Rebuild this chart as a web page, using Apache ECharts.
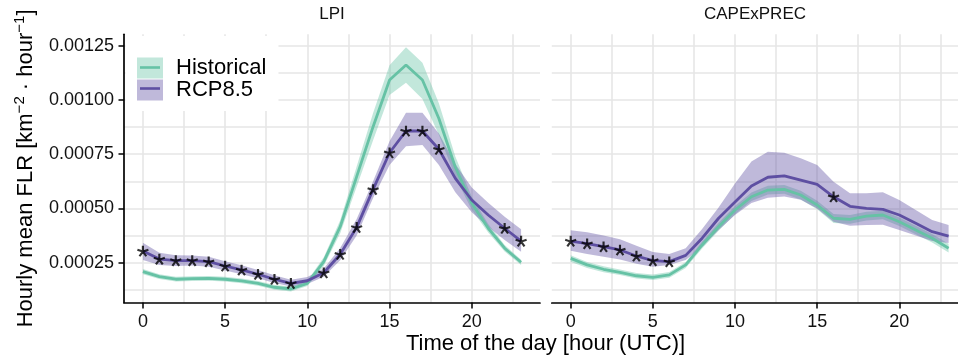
<!DOCTYPE html>
<html><head><meta charset="utf-8">
<script src="https://cdn.jsdelivr.net/npm/echarts@6/dist/echarts.min.js"></script>
<style>html,body{margin:0;padding:0;background:#fff}#c{width:958px;height:362px}</style>
</head><body><div id="c"></div>
<script>
// ---------- data ----------
const hours = [0,1,2,3,4,5,6,7,8,9,10,11,12,13,14,15,16,17,18,19,20,21,22,23];
const panelNames = ['LPI', 'CAPExPREC'];
const seriesNames = ['Historical', 'RCP8.5'];

// LPI panel
const lpiHist   = [0.000209,0.000186,0.000174,0.000177,0.000178,0.000174,0.000166,0.000155,0.000137,0.000129,0.000155,0.000255,0.000416,0.000647,0.000877,0.001092,0.001161,0.001092,0.000915,0.000690,0.000524,0.000409,0.000317,0.000252];
const lpiHistLo = [0.000197,0.000175,0.000163,0.000166,0.000167,0.000163,0.000155,0.000144,0.000126,0.000118,0.000143,0.000235,0.000386,0.000600,0.000815,0.001023,0.001080,0.001005,0.000840,0.000645,0.000494,0.000389,0.000302,0.000240];
const lpiHistHi = [0.000221,0.000197,0.000185,0.000188,0.000189,0.000185,0.000177,0.000166,0.000148,0.000140,0.000167,0.000275,0.000446,0.000694,0.000940,0.001160,0.001243,0.001172,0.000985,0.000740,0.000554,0.000429,0.000332,0.000264];
const lpiRcp    = [0.000304,0.000267,0.000260,0.000260,0.000255,0.000235,0.000217,0.000197,0.000174,0.000155,0.000167,0.000204,0.000289,0.000413,0.000588,0.000757,0.000857,0.000857,0.000773,0.000639,0.000539,0.000470,0.000409,0.000350];
const lpiRcpLo  = [0.000263,0.000240,0.000235,0.000237,0.000232,0.000214,0.000197,0.000178,0.000157,0.000140,0.000152,0.000185,0.000262,0.000375,0.000548,0.000700,0.000787,0.000793,0.000700,0.000575,0.000483,0.000415,0.000355,0.000301];
const lpiRcpHi  = [0.000342,0.000296,0.000285,0.000283,0.000278,0.000257,0.000238,0.000217,0.000192,0.000172,0.000184,0.000224,0.000318,0.000452,0.000625,0.000810,0.000941,0.000941,0.000846,0.000705,0.000597,0.000527,0.000462,0.000404];
const lpiSignif = [1,1,1,1,1,1,1,1,1,1,0,1,1,1,1,1,1,1,1,0,0,0,1,1];

// CAPExPREC panel
const capeHist   = [0.000270,0.000240,0.000220,0.000206,0.000190,0.000183,0.000194,0.000240,0.000332,0.000416,0.000493,0.000554,0.000585,0.000588,0.000562,0.000516,0.000455,0.000450,0.000465,0.000470,0.000439,0.000401,0.000363,0.000317];
const capeHistLo = [0.000255,0.000226,0.000206,0.000193,0.000177,0.000170,0.000181,0.000226,0.000316,0.000398,0.000474,0.000534,0.000565,0.000568,0.000542,0.000496,0.000433,0.000430,0.000445,0.000450,0.000419,0.000381,0.000343,0.000297];
const capeHistHi = [0.000285,0.000254,0.000234,0.000219,0.000203,0.000196,0.000207,0.000254,0.000348,0.000434,0.000512,0.000574,0.000605,0.000608,0.000582,0.000536,0.000475,0.000470,0.000485,0.000490,0.000459,0.000421,0.000383,0.000337];
const capeRcp    = [0.000350,0.000338,0.000324,0.000309,0.000281,0.000260,0.000255,0.000284,0.000363,0.000455,0.000530,0.000604,0.000644,0.000650,0.000631,0.000611,0.000554,0.000510,0.000501,0.000496,0.000470,0.000432,0.000393,0.000373];
const capeRcpLo  = [0.000305,0.000290,0.000278,0.000265,0.000245,0.000232,0.000240,0.000263,0.000324,0.000401,0.000470,0.000525,0.000550,0.000555,0.000540,0.000500,0.000439,0.000420,0.000424,0.000425,0.000401,0.000375,0.000350,0.000341];
const capeRcpHi  = [0.000400,0.000390,0.000375,0.000358,0.000328,0.000300,0.000290,0.000317,0.000405,0.000505,0.000615,0.000716,0.000762,0.000757,0.000731,0.000700,0.000623,0.000570,0.000570,0.000575,0.000539,0.000493,0.000447,0.000424];
const capeSignif = [1,1,1,1,1,1,1,0,0,0,0,0,0,0,0,0,1,0,0,0,0,0,0,0];

// ticks / grid lines
const xTickValues = [0, 5, 10, 15, 20];
const xGridValues = [0, 2.5, 5, 7.5, 10, 12.5, 15, 17.5, 20, 22.5];
const yTickValues = [0.00025, 0.0005, 0.00075, 0.001, 0.00125];
const yGridValues = [0.000125, 0.00025, 0.000375, 0.0005, 0.000625, 0.00075, 0.000875, 0.001, 0.001125, 0.00125];
const xRange = [-1.15, 24.15];
const yRange = [0.0000668, 0.0013027];

// ---------- styles ----------
const FONT = '"Liberation Sans", Arial, Helvetica, sans-serif';
const GREEN = '#66c2a5', GREEN_FILL = 'rgba(102,194,165,0.4)';
const PURPLE = '#5e4fa2', PURPLE_FILL = 'rgba(94,79,162,0.4)';
const GRID_COLOR = '#e6e6e6';
const STAR = 'path://M0,-10 L0,0 M0,0 L9.51,-3.09 M0,0 L5.88,8.09 M0,0 L-5.88,8.09 M0,0 L-9.51,-3.09';

function ribbon(name, ai, lo, hi, fill) {
  return {
    type: 'custom', name, xAxisIndex: ai, yAxisIndex: ai, silent: true, z: 2,
    data: hours.map((h, i) => [h, lo[i], hi[i]]),
    encode: { x: 0, y: [1, 2] },
    renderItem: (params, api) => {
      if (params.dataIndex !== 0) return null;
      const pts = [];
      hours.forEach((h, i) => pts.push(api.coord([h, hi[i]])));
      for (let i = hours.length - 1; i >= 0; i--) pts.push(api.coord([hours[i], lo[i]]));
      return { type: 'polygon', shape: { points: pts }, style: { fill } };
    }
  };
}
function line(name, ai, vals, color, z) {
  return {
    type: 'line', name, xAxisIndex: ai, yAxisIndex: ai, silent: true, z,
    data: hours.map((h, i) => [h, vals[i]]),
    symbol: 'none', lineStyle: { width: 2.8, color }, itemStyle: { color }
  };
}
function stars(ai, vals, flags) {
  return {
    type: 'scatter', name: 'signif', xAxisIndex: ai, yAxisIndex: ai, silent: true, z: 6,
    data: hours.filter((h, i) => flags[i]).map(h => [h, vals[hours.indexOf(h)]]),
    symbol: STAR, symbolSize: [11, 10.5],
    itemStyle: { color: 'rgba(0,0,0,0)', borderColor: '#000', borderWidth: 2.1 }
  };
}

const gridTop = 34.3, gridH = 268.2;
const visX = (gi) => ({
  type: 'value', gridIndex: gi, min: xRange[0], max: xRange[1], position: 'bottom',
  axisLine: { show: true, onZero: false, lineStyle: { color: '#000', width: 1.7 } },
  axisTick: { show: true, length: 6, lineStyle: { color: '#000', width: 1.5 }, customValues: xTickValues },
  axisLabel: { show: true, customValues: xTickValues, fontSize: 18, color: '#111', fontFamily: FONT, margin: 11 },
  splitLine: { show: false }, minorTick: { show: false }
});
const gridX = (gi) => ({
  type: 'value', gridIndex: gi, min: xRange[0], max: xRange[1],
  axisLine: { show: false, onZero: false }, axisLabel: { show: false },
  axisTick: { show: false, customValues: xGridValues },
  splitLine: { show: true, lineStyle: { color: GRID_COLOR, width: 1.6 } }
});
const gridY = (gi) => ({
  type: 'value', gridIndex: gi, min: yRange[0], max: yRange[1],
  axisLine: { show: false, onZero: false }, axisLabel: { show: false },
  axisTick: { show: false, customValues: yGridValues },
  splitLine: { show: true, lineStyle: { color: GRID_COLOR, width: 1.6 } }
});

const option = {
  animation: false,
  backgroundColor: '#fff',
  textStyle: { fontFamily: FONT },
  title: [
    { text: panelNames[0], left: 332, top: 6, textAlign: 'center', padding: 0,
      textStyle: { fontSize: 17, fontWeight: 'normal', color: '#111', fontFamily: FONT } },
    { text: panelNames[1], left: 755, top: 6, textAlign: 'center', padding: 0,
      textStyle: { fontSize: 17, fontWeight: 'normal', color: '#111', fontFamily: FONT } },
    { text: 'Time of the day [hour (UTC)]', left: 545.5, top: 333, textAlign: 'center', padding: 0,
      textStyle: { fontSize: 22, fontWeight: 'normal', color: '#000', fontFamily: FONT } }
  ],
  grid: [
    { left: 124, top: gridTop, width: 416, height: gridH, outerBoundsMode: 'none' },
    { left: 551.8, top: gridTop, width: 415.7, height: gridH, outerBoundsMode: 'none' }
  ],
  legend: [
    { orient: 'vertical', left: 125.5, top: 36, padding: [21, 12, 10, 11.5], itemGap: 0,
      itemWidth: 26, itemHeight: 21, backgroundColor: '#fff', selectedMode: false, z: 4,
      textStyle: { fontSize: 22, lineHeight: 21, color: '#000', fontFamily: FONT, padding: [0, 0, 0, 8] },
      data: [
        { name: seriesNames[0], icon: 'rect', itemStyle: { color: GREEN_FILL, borderWidth: 0 } },
        { name: seriesNames[1], icon: 'rect', itemStyle: { color: PURPLE_FILL, borderWidth: 0 } }
      ] },
    { orient: 'vertical', left: 125.5, top: 36, padding: [21, 12, 10, 11.5], itemGap: 0,
      itemWidth: 26, itemHeight: 21, selectedMode: false, z: 5,
      formatter: () => '',
      textStyle: { fontSize: 22, lineHeight: 21, color: '#000', fontFamily: FONT },
      data: [
        { name: seriesNames[0], icon: 'path://M0,0 M26,21 M3,9.2 H23 V11.8 H3 Z', itemStyle: { color: GREEN, borderWidth: 0 } },
        { name: seriesNames[1], icon: 'path://M0,0 M26,21 M3,9.2 H23 V11.8 H3 Z', itemStyle: { color: PURPLE, borderWidth: 0 } }
      ] }
  ],
  xAxis: [visX(0), visX(1), gridX(0), gridX(1)],
  yAxis: [
    { type: 'value', gridIndex: 0, min: yRange[0], max: yRange[1], position: 'left', z: 6,
      axisLine: { show: true, onZero: false, lineStyle: { color: '#000', width: 1.7 } },
      axisTick: { show: true, length: 5.5, lineStyle: { color: '#000', width: 1.5 }, customValues: yTickValues },
      axisLabel: { show: true, customValues: yTickValues, fontSize: 18, color: '#111', fontFamily: FONT, margin: 10,
        formatter: v => v.toFixed(5) },
      splitLine: { show: false },
      name: '{t|Hourly mean FLR [km}{s|−2}{t| · hour}{s|−1}{t|]}',
      nameLocation: 'middle', nameGap: 84,
      nameTextStyle: { fontSize: 22, color: '#000', fontFamily: FONT,
        rich: { t: { fontSize: 22, fontFamily: FONT, color: '#000' },
                s: { fontSize: 15, fontFamily: FONT, color: '#000', padding: [0, 0, 13, 0] } } } },
    gridY(1),
    gridY(0)
  ],
  series: [
    ribbon(seriesNames[0], 0, lpiHistLo, lpiHistHi, GREEN_FILL),
    ribbon(seriesNames[1], 0, lpiRcpLo, lpiRcpHi, PURPLE_FILL),
    line(seriesNames[0], 0, lpiHist, GREEN, 3),
    line(seriesNames[1], 0, lpiRcp, PURPLE, 4),
    stars(0, lpiRcp, lpiSignif),
    ribbon(seriesNames[0], 1, capeHistLo, capeHistHi, GREEN_FILL),
    ribbon(seriesNames[1], 1, capeRcpLo, capeRcpHi, PURPLE_FILL),
    line(seriesNames[0], 1, capeHist, GREEN, 3),
    line(seriesNames[1], 1, capeRcp, PURPLE, 4),
    stars(1, capeRcp, capeSignif)
  ]
};
const chart = echarts.init(document.getElementById('c'), null, { renderer: 'canvas' });
chart.setOption(option);
</script></body></html>
